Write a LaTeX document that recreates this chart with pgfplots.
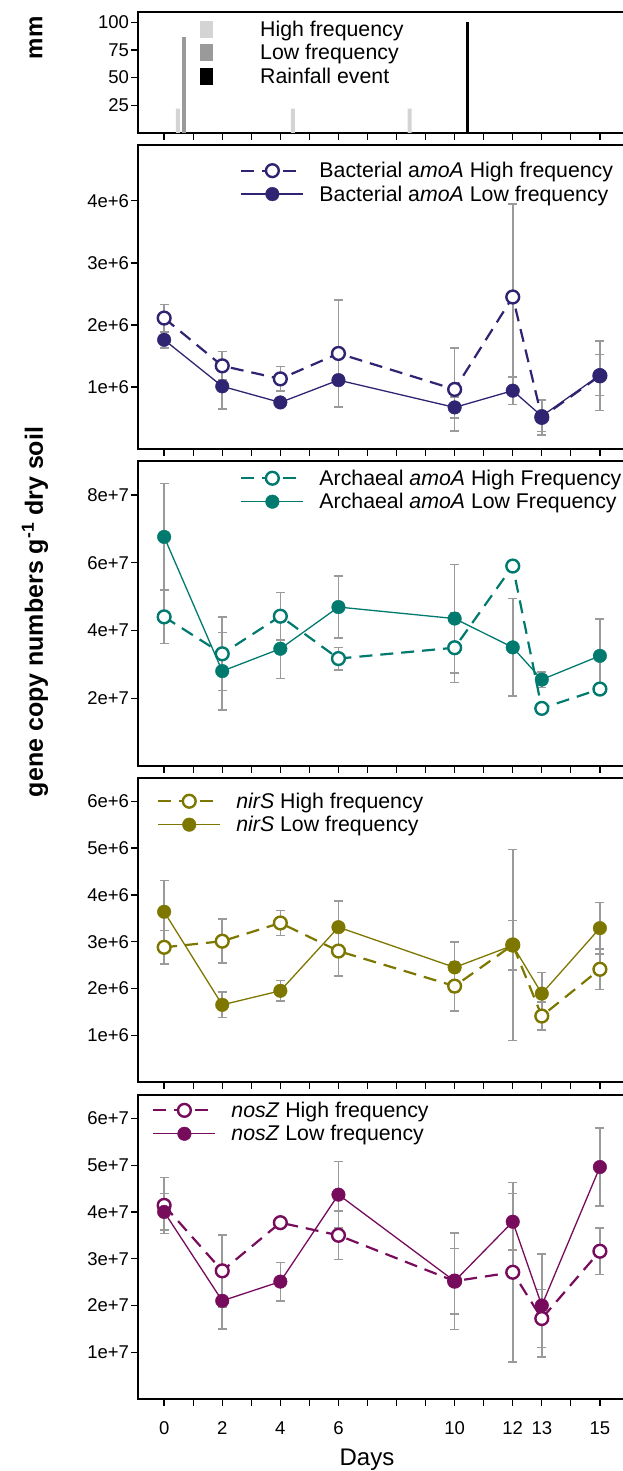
\documentclass[border=0pt]{standalone}
\usepackage{fontspec}
\setmainfont{Liberation Sans}
\usepackage{pgfplots}
\pgfplotsset{compat=1.18}
\usepackage{pgfplotstable}

\definecolor{bact}{HTML}{2E2472}
\definecolor{arch}{HTML}{007A6F}
\definecolor{nirs}{HTML}{7D7700}
\definecolor{nosz}{HTML}{770B5C}
\definecolor{ebar}{HTML}{9A9A9A}
\definecolor{hf}{HTML}{D4D4D4}
\definecolor{lf}{HTML}{9A9A9A}

\newcommand\tickfont{\fontsize{18.5}{20}\selectfont}
\newcommand\legfont{\fontsize{21.3}{24}\selectfont}

\pgfplotstableread{
day H He L Le
0 2.11e6 0.22e6 1.76e6 0.13e6
2 1.34e6 0.23e6 1.01e6 0.37e6
4 1.13e6 0.20e6 0.75e6 0.05e6
6 1.54e6 0.86e6 1.11e6 0.05e6
10 0.96e6 0.67e6 0.67e6 0.17e6
12 2.45e6 1.50e6 0.94e6 0.22e6
13 0.51e6 0.28e6 0.53e6 0.25e6
15 1.18e6 0.56e6 1.19e6 0.33e6
}\bactdata

\pgfplotstableread{
day H He L Le
0 4.40e7 0.79e7 6.76e7 1.57e7
2 3.31e7 1.08e7 2.80e7 1.14e7
4 4.42e7 0.70e7 3.46e7 0.88e7
6 3.17e7 0.33e7 4.69e7 0.91e7
10 3.49e7 1.03e7 4.35e7 1.60e7
12 5.90e7 0.10e7 3.50e7 1.44e7
13 1.70e7 0.10e7 2.55e7 0.23e7
15 2.27e7 0.10e7 3.25e7 1.08e7
}\archdata

\pgfplotstableread{
day H He L Le
0 2.88e6 0.36e6 3.64e6 0.67e6
2 3.01e6 0.47e6 1.65e6 0.27e6
4 3.40e6 0.27e6 1.95e6 0.22e6
6 2.80e6 0.53e6 3.31e6 0.56e6
10 2.05e6 0.53e6 2.45e6 0.54e6
12 2.93e6 2.04e6 2.92e6 0.53e6
13 1.41e6 0.30e6 1.89e6 0.45e6
15 2.41e6 0.43e6 3.29e6 0.55e6
}\nirsdata

\pgfplotstableread{
day H He L Le
0 4.14e7 0.60e7 4.00e7 0.39e7
2 2.74e7 0.77e7 2.10e7 0.60e7
4 3.77e7 0.10e7 2.51e7 0.41e7
6 3.50e7 0.52e7 4.37e7 0.71e7
10 2.52e7 1.03e7 2.52e7 0.70e7
12 2.71e7 1.92e7 3.79e7 0.60e7
13 1.72e7 0.62e7 2.00e7 1.10e7
15 3.16e7 0.50e7 4.96e7 0.83e7
}\noszdata

\pgfplotsset{
  panel/.style={
    scale only axis, width=486pt,
    xmin=-0.9, xmax=15.83, ymin=0,
    axis line style={line width=1.8pt, black},
    tick align=outside, major tick length=7pt,
    tick style={line width=1.3pt, black},
    tick pos=left,
    xtick={0,...,15}, xticklabels={},
    scaled y ticks=false,
    ticklabel style={font=\tickfont},
    yticklabel style={xshift=1.5pt},
    xticklabel style={yshift=-12pt},
    /pgf/number format/assume math mode=true,
    clip=false,
    legend cell align=left,
    legend style={draw=none, fill=none, inner sep=0pt, font=\legfont,
      row sep=2.5pt, anchor=west,
      /tikz/every odd column/.append style={column sep=13pt}},
    legend image code/.code={\draw[mark repeat=2,mark phase=2,##1] plot coordinates {(0pt,0pt) (31pt,0pt) (62pt,0pt)};},
  },
  ebars/.style={ebar, only marks, mark=none, forget plot,
    error bars/.cd, y dir=both, y explicit,
    error bar style={line width=1.6pt, ebar},
    error mark options={rotate=90, mark size=4.5pt, line width=1.6pt, ebar}},
  hline/.style={color=#1, line width=2.2pt, dash pattern=on 13pt off 8pt,
    mark=*, mark size=6.4pt, mark options={solid, fill=white, draw=#1, line width=2.4pt}},
  lline/.style={color=#1, line width=1.3pt, solid,
    mark=*, mark size=6.8pt, mark options={solid, fill=#1, draw=#1, line width=0.4pt}},
}

\begin{document}
\begin{tikzpicture}[x=1pt,y=1pt]
\path[use as bounding box] (0,0) rectangle (622,1471);

% Rainfall panel
\begin{axis}[panel, at={(138pt,1338pt)}, anchor=south west, height=121pt,
  ymax=109.2, ytick={25,50,75,100},
  legend style={at={(0.1276,0.664)}, row sep=2.5pt,
    /tikz/every odd column/.append style={column sep=45pt}}]
\addplot[ybar, bar shift=0pt, bar width=4pt, fill=hf, draw=none,
  legend image code/.code={\fill[hf] (0pt,-8.5pt) rectangle (13pt,8.5pt);}]
  coordinates {(0.47,22) (4.43,22) (8.45,22)};
\addplot[ybar, bar shift=0pt, bar width=4.4pt, fill=lf, draw=none,
  legend image code/.code={\fill[lf] (0pt,-8.5pt) rectangle (13pt,8.5pt);}]
  coordinates {(0.68,86.5)};
\addplot[ybar, bar shift=0pt, bar width=3pt, fill=black, draw=none,
  legend image code/.code={\fill[black] (0pt,-8.5pt) rectangle (13pt,8.5pt);}]
  coordinates {(10.45,100)};
\legend{High frequency, Low frequency, Rainfall event}
\end{axis}

% Bacterial amoA
\begin{axis}[panel, at={(138pt,1022pt)}, anchor=south west, height=304pt,
  ymax=4.9e6, ytick={1e6,2e6,3e6,4e6}, yticklabels={1e+6,2e+6,3e+6,4e+6},
  legend style={at={(0.21,0.877)}}]
\addplot[ebars] table[x=day, y=H, y error=He] {\bactdata};
\addplot[ebars] table[x=day, y=L, y error=Le] {\bactdata};
\addplot[hline=bact] table[x=day, y=H] {\bactdata};
\addplot[lline=bact] table[x=day, y=L] {\bactdata};
\legend{Bacterial a\textit{moA} High frequency, Bacterial a\textit{moA} Low frequency}
\end{axis}

% Archaeal amoA
\begin{axis}[panel, at={(138pt,705pt)}, anchor=south west, height=305pt,
  ymax=9e7, ytick={2e7,4e7,6e7,8e7}, yticklabels={2e+7,4e+7,6e+7,8e+7},
  legend style={at={(0.21,0.905)}}]
\addplot[ebars] table[x=day, y=H, y error=He] {\archdata};
\addplot[ebars] table[x=day, y=L, y error=Le] {\archdata};
\addplot[hline=arch] table[x=day, y=H] {\archdata};
\addplot[lline=arch] table[x=day, y=L] {\archdata};
\legend{Archaeal \textit{amoA} High Frequency, Archaeal \textit{amoA} Low Frequency}
\end{axis}

% nirS
\begin{axis}[panel, at={(138pt,389pt)}, anchor=south west, height=304pt,
  ymax=6.5e6, ytick={1e6,2e6,3e6,4e6,5e6,6e6}, yticklabels={1e+6,2e+6,3e+6,4e+6,5e+6,6e+6},
  legend style={at={(0.039,0.885)}}]
\addplot[ebars] table[x=day, y=H, y error=He] {\nirsdata};
\addplot[ebars] table[x=day, y=L, y error=Le] {\nirsdata};
\addplot[hline=nirs] table[x=day, y=H] {\nirsdata};
\addplot[lline=nirs] table[x=day, y=L] {\nirsdata};
\legend{\textit{nirS} High frequency, \textit{nirS} Low frequency}
\end{axis}

% nosZ
\begin{axis}[panel, at={(138pt,72pt)}, anchor=south west, height=304pt,
  ymax=6.5e7, ytick={1e7,2e7,3e7,4e7,5e7,6e7}, yticklabels={1e+7,2e+7,3e+7,4e+7,5e+7,6e+7},
  xticklabels={0,,2,,4,,6,,,,10,,12,13,,15},
  legend style={at={(0.029,0.911)}}]
\addplot[ebars] table[x=day, y=H, y error=He] {\noszdata};
\addplot[ebars] table[x=day, y=L, y error=Le] {\noszdata};
\addplot[hline=nosz] table[x=day, y=H] {\noszdata};
\addplot[lline=nosz] table[x=day, y=L] {\noszdata};
\legend{\textit{nosZ} High frequency, \textit{nosZ} Low frequency}
\end{axis}

\node[font=\fontsize{24}{26}\selectfont, anchor=base] at (367,5.5) {Days};
\node[font=\fontsize{25}{27}\selectfont\bfseries, rotate=90] at (35,859) {gene copy numbers g\textsuperscript{-1} dry soil};
\node[font=\fontsize{24}{26}\selectfont\bfseries, rotate=90] at (36,1433) {mm};
\end{tikzpicture}
\end{document}
